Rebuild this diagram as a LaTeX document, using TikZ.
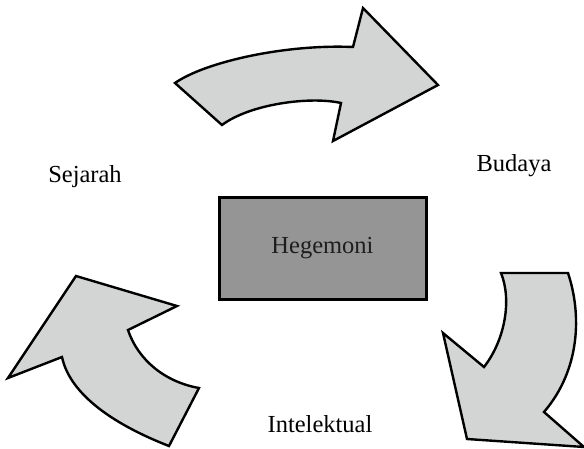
\documentclass[tikz,border=0pt]{standalone}
\usepackage{fontspec}
\setmainfont{Liberation Serif}
\usepackage{tikz}
\definecolor{panahgray}{HTML}{D3D5D4}
\definecolor{kotakgray}{HTML}{959595}
\definecolor{tekshitam}{HTML}{1E1E1E}

\begin{document}
\begin{tikzpicture}[x=1pt, y=-1pt,
    panah/.style={draw=black, fill=panahgray, line width=2.4pt},
    teks/.style={font=\fontsize{24.5}{28}\selectfont, text=black, inner sep=0pt}]
  \useasboundingbox (0,0) rectangle (584,448);

  % kotak tengah
  \node[draw=black, fill=kotakgray, line width=3pt, minimum width=207pt, minimum height=102pt,
        inner sep=0pt, font=\fontsize{24.5}{28}\selectfont, text=tekshitam] (hegemoni) at (322.5,248) {Hegemoni};

  % panah atas
  \draw[panah] (175,83) .. controls (205,62) and (285,44) .. (353,47) -- (363,8) -- (438,85)
    -- (333,141) -- (341,103) .. controls (310,96) and (250,104) .. (222,125) -- cycle;

  % panah kanan bawah
  \draw[panah] (501,273) -- (568,273) .. controls (582,315) and (580,370) .. (544,412) -- (584,447)
    -- (467,439) -- (443,333) -- (484,367) .. controls (505,340) and (512,300) .. (501,273) -- cycle;

  % panah kiri bawah
  \draw[panah] (8,378) -- (76,276) -- (177,306) -- (128,330) .. controls (138,360) and (165,382) .. (199,388)
    -- (169,446) .. controls (115,425) and (70,395) .. (62,357) -- cycle;

  \node[teks] (sejarah) at (85,177) {Sejarah};
  \node[teks] (budaya) at (514,166) {Budaya};
  \node[teks] (intelektual) at (320,424) {Intelektual};
\end{tikzpicture}
\end{document}
